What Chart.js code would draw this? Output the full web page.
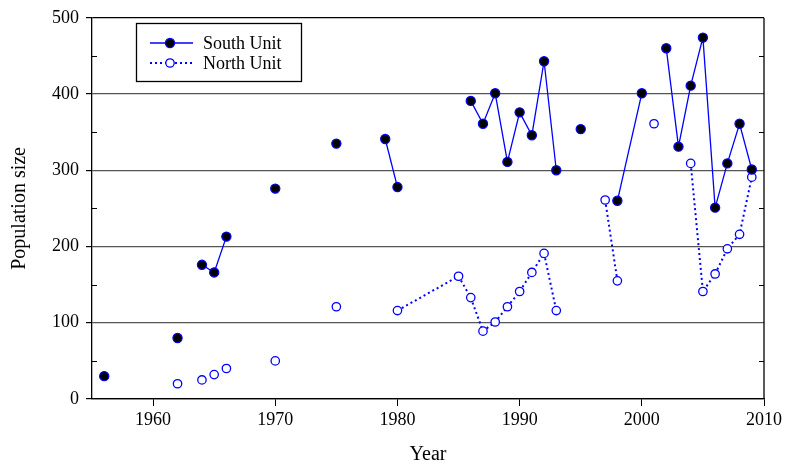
<!DOCTYPE html>
<html><head><meta charset="utf-8">
<script src="https://cdn.jsdelivr.net/npm/chart.js@4.4.0/dist/chart.umd.min.js"></script>
<style>html,body{margin:0;padding:0;background:#fff}#wrap{width:785px;height:464px;position:relative}</style>
</head><body><div id="wrap"><canvas id="c"></canvas></div>
<script>
const southYears=[1956,1962,1964,1965,1966,1970,1975,1979,1980,1986,1987,1988,1989,1990,1991,1992,1993,1995,1998,2000,2002,2003,2004,2005,2006,2007,2008,2009];
const southValues=[30,80,176,166,213,276,335,341,278,391,361,401,311,376,346,443,300,354,260,401,460,331,411,474,251,309,361,301];
const northYears=[1962,1964,1965,1966,1970,1975,1980,1985,1986,1987,1988,1989,1990,1991,1992,1993,1997,1998,2001,2004,2005,2006,2007,2008,2009];
const northValues=[20,25,32,40,50,121,116,161,133,89,101,121,141,166,191,116,261,155,361,309,141,164,197,216,291];
const southBreaksAfter=[1956,1962,1966,1970,1975,1980,1993,1995,2000];
const northBreaksAfter=[1962,1964,1965,1966,1970,1975,1993,1998,2001];
const xTicks=[1960,1970,1980,1990,2000,2010];
const yTicks=[0,100,200,300,400,500];
const BLUE='#0000ff';
const FONT='"Liberation Serif","Times New Roman",serif';

function pts(xs,ys){return xs.map((x,i)=>({x:x,y:ys[i]}));}
function seg(years,breaks,color){return ctx=>breaks.includes(years[ctx.p0DataIndex])?'rgba(0,0,0,0)':color;}

const framePlugin={
  id:'frame',
  afterDraw(chart){
    const c=chart.ctx, a=chart.chartArea, ys=chart.scales.y;
    c.save();
    c.strokeStyle='#000'; c.lineWidth=1.3;
    c.beginPath(); c.moveTo(a.right,a.top); c.lineTo(a.right,a.bottom); c.stroke();
    c.lineWidth=1;
    for(let v=50; v<500; v+=100){
      const p=Math.round(ys.getPixelForValue(v))+0.5;
      c.beginPath(); c.moveTo(a.left,p); c.lineTo(a.left+5,p); c.stroke();
      c.beginPath(); c.moveTo(a.right,p); c.lineTo(a.right-5,p); c.stroke();
    }
    c.restore();
  }
};
const legendPlugin={
  id:'boxlegend',
  afterDraw(chart){
    const c=chart.ctx;
    c.save();
    c.strokeStyle='#000'; c.lineWidth=1.3;
    c.strokeRect(136.5,23.5,165,58);
    const rows=[{ds:chart.data.datasets[0],y:43},{ds:chart.data.datasets[1],y:63}];
    rows.forEach(r=>{
      c.strokeStyle=BLUE; c.lineWidth=r.ds.borderWidth;
      c.setLineDash(r.ds.borderDash||[]);
      c.beginPath(); c.moveTo(150,r.y); c.lineTo(193,r.y); c.stroke();
      c.setLineDash([]);
      c.beginPath(); c.arc(170,r.y,r.ds.pointRadius,0,Math.PI*2);
      c.fillStyle=r.ds.pointBackgroundColor; c.fill();
      c.lineWidth=r.ds.pointBorderWidth; c.strokeStyle=r.ds.pointBorderColor; c.stroke();
      c.fillStyle='#000'; c.font='18px '+FONT; c.textBaseline='middle'; c.textAlign='left';
      c.fillText(r.ds.label,203,r.y+1);
    });
    c.restore();
  }
};

new Chart(document.getElementById('c'),{
  type:'line',
  data:{datasets:[
    {label:'South Unit',data:pts(southYears,southValues),borderColor:BLUE,borderWidth:1.3,
     pointRadius:4.6,pointBackgroundColor:'#000',pointBorderColor:BLUE,pointBorderWidth:1.2,
     segment:{borderColor:seg(southYears,southBreaksAfter,BLUE)},tension:0},
    {label:'North Unit',data:pts(northYears,northValues),borderColor:BLUE,borderWidth:2,borderDash:[2,3],
     pointRadius:4.2,pointBackgroundColor:'#fff',pointBorderColor:BLUE,pointBorderWidth:1.3,
     segment:{borderColor:seg(northYears,northBreaksAfter,BLUE)},tension:0}
  ]},
  options:{
    responsive:true,maintainAspectRatio:false,animation:false,
    layout:{padding:{top:14,right:20,left:0,bottom:0}},
    plugins:{legend:{display:false},tooltip:{enabled:false}},
    scales:{
      x:{type:'linear',min:1955,max:2010,
        afterBuildTicks:s=>{s.ticks=xTicks.map(v=>({value:v}));},
        afterFit:s=>{s.height=65;},
        ticks:{color:'#000',font:{family:FONT,size:18},padding:3,maxRotation:0,callback:v=>String(v)},
        grid:{drawOnChartArea:false,drawTicks:true,tickLength:7,color:'#000',lineWidth:1},
        border:{display:true,color:'#000',width:1.3},
        title:{display:true,text:'Year',color:'#000',font:{family:FONT,size:20},padding:{top:0,bottom:-3}}
      },
      y:{min:0,max:500,
        afterBuildTicks:s=>{s.ticks=yTicks.map(v=>({value:v}));},
        afterFit:s=>{s.width=92;},
        ticks:{color:'#000',font:{family:FONT,size:18},padding:7,callback:v=>String(v)},
        grid:{drawTicks:true,tickLength:6,lineWidth:1.2,
          color:c=>(c.tick&&(c.tick.value===0||c.tick.value===500))?'#000':'#555',
          tickColor:'#000'},
        border:{display:true,color:'#000',width:1.3},
        title:{display:true,text:'Population size',color:'#000',font:{family:FONT,size:20},padding:{top:8,bottom:0}}
      }
    }
  },
  plugins:[framePlugin,legendPlugin]
});
</script></body></html>
